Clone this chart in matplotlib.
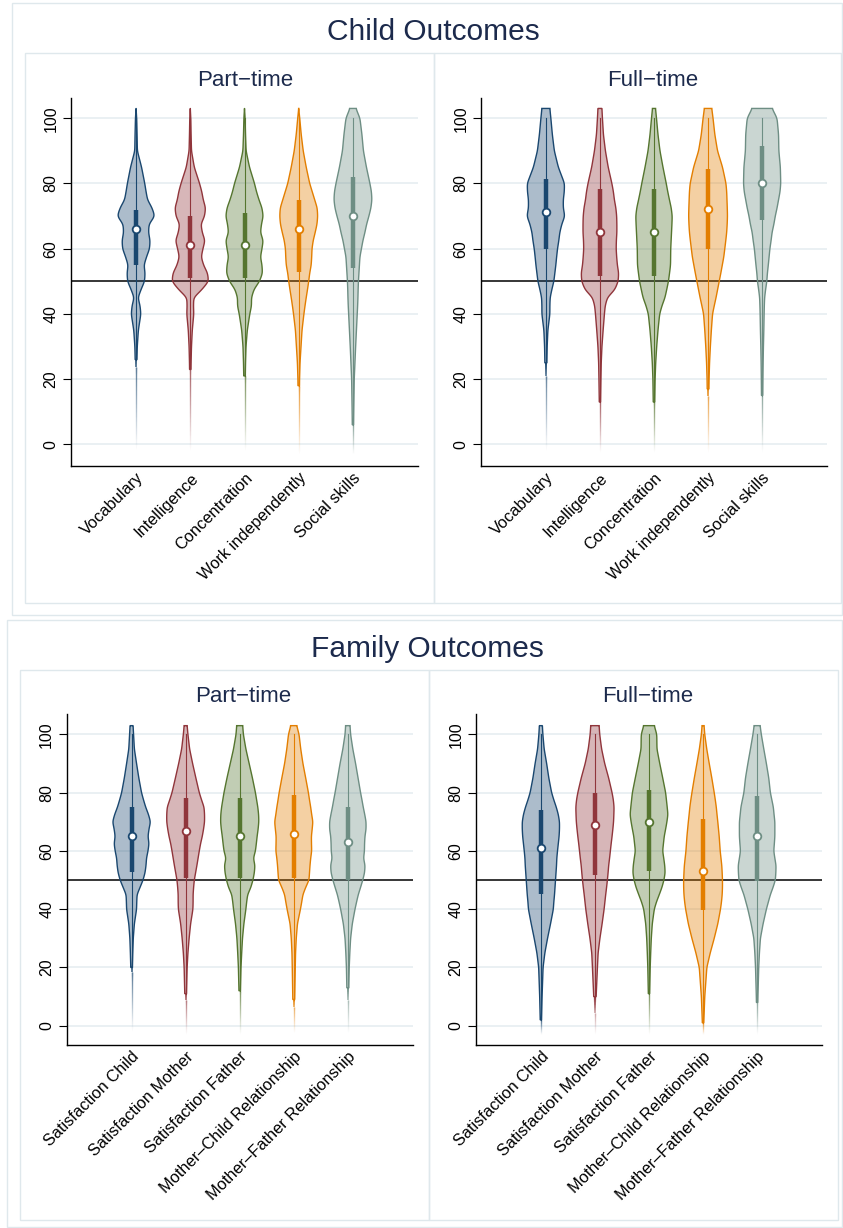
import numpy as np
import matplotlib
matplotlib.use('Agg')
import matplotlib.pyplot as plt
from matplotlib.patches import Rectangle
from matplotlib.collections import LineCollection

plt.rcParams['font.family'] = ['Liberation Sans', 'DejaVu Sans']

# ---- data ----

child_labels = ['Vocabulary', 'Intelligence', 'Concentration',
                'Work independently', 'Social skills']
family_labels = ['Satisfaction Child', 'Satisfaction Mother', 'Satisfaction Father',
                 'Mother\u2013Child Relationship', 'Mother\u2013Father Relationship']

# scores at which the violin half-widths (density, in pixels) were read
levels = [0, 10, 20, 25, 30, 35, 40, 42.5, 45, 47.5, 50, 52.5, 55, 57.5, 60,
          62.5, 65, 67.5, 70, 72.5, 75, 77.5, 80, 85, 90, 95, 100, 103]

# child outcomes, part-time
child_pt_dens = [
    [0.3, 0.4, 0.6, 0.8, 1.2, 2.3, 4.8, 4.0, 2.0, 5.0, 8.5, 9.0, 8.0, 10.5, 13.5,
     14.0, 12.5, 13.0, 18.7, 16.0, 11.5, 10.0, 8.7, 5.5, 1.3, 1.0, 0.6, 0.0],
    [0.3, 0.4, 0.6, 0.8, 1.2, 2.0, 3.5, 3.2, 3.5, 11.7, 18.3, 17.3, 13.3, 11.0, 12.7,
     14.7, 12.0, 10.7, 14.3, 15.3, 13.0, 11.5, 9.3, 4.0, 1.2, 0.8, 0.5, 0.0],
    [0.3, 0.4, 0.7, 1.0, 1.5, 2.8, 5.3, 7.0, 7.0, 9.5, 15.0, 18.0, 17.5, 16.0, 17.5,
     18.7, 16.0, 17.0, 18.7, 17.5, 14.5, 12.0, 10.0, 5.0, 1.6, 1.0, 0.6, 0.0],
    [0.3, 0.5, 0.8, 1.3, 2.3, 3.3, 5.2, 6.3, 7.5, 8.8, 10.0, 11.0, 12.5, 13.0, 13.3,
     14.5, 16.5, 18.3, 19.0, 18.5, 16.0, 13.5, 11.0, 7.5, 4.5, 2.5, 1.0, 0.0],
    [0.4, 0.8, 1.3, 2.0, 2.7, 3.5, 4.3, 4.7, 5.0, 5.2, 5.5, 6.0, 6.5, 7.0, 8.5,
     10.0, 12.0, 13.7, 16.0, 18.0, 19.0, 18.5, 17.0, 13.5, 10.5, 9.0, 7.0, 3.0],
]
child_pt_q1 = [55, 51, 51, 53, 54]
child_pt_med = [66, 61, 61, 66, 70]
child_pt_q3 = [72, 70, 71, 75, 82]
child_pt_solid = [26, 23, 21, 18, 6]      # below this the tail fades out
child_pt_tail = [-1.7, -2, -2, -3, -3]

# child outcomes, full-time
child_ft_dens = [
    [0.3, 0.5, 0.7, 1.0, 1.3, 2.0, 4.0, 4.0, 4.3, 6.0, 8.0, 9.0, 10.0, 10.8, 11.7,
     13.0, 14.0, 16.0, 19.0, 17.5, 17.5, 18.5, 18.7, 12.5, 8.5, 6.5, 5.0, 4.0],
    [0.3, 0.5, 1.0, 1.3, 2.0, 3.2, 4.5, 5.3, 7.5, 15.0, 18.3, 18.8, 17.5, 16.8, 16.3,
     16.5, 17.0, 17.0, 16.8, 16.0, 14.5, 13.5, 12.0, 8.3, 5.5, 3.5, 2.5, 2.0],
    [0.3, 0.6, 1.1, 1.7, 2.7, 4.0, 5.7, 8.0, 11.0, 12.8, 14.5, 15.6, 16.6, 16.7, 16.8,
     17.2, 17.6, 18.0, 18.3, 17.3, 15.5, 13.8, 12.3, 9.0, 6.0, 4.0, 2.5, 1.5],
    [0.3, 0.5, 1.0, 1.5, 2.3, 3.3, 4.5, 6.2, 8.0, 9.6, 11.2, 12.8, 14.3, 15.8, 16.8,
     17.8, 18.7, 19.2, 19.5, 19.3, 19.0, 18.7, 18.0, 14.5, 9.5, 6.8, 5.0, 3.7],
    [0.3, 0.5, 0.8, 1.0, 1.3, 1.7, 2.0, 2.2, 2.5, 3.5, 4.7, 5.3, 6.2, 7.0, 7.8,
     9.0, 10.0, 11.8, 13.2, 15.0, 16.5, 18.0, 18.7, 18.3, 16.8, 16.5, 15.0, 10.0],
]
child_ft_q1 = [60, 51.6, 51.6, 60, 68.9]
child_ft_med = [71.2, 65.1, 65.1, 72.1, 80.2]
child_ft_q3 = [81.3, 78.2, 78.2, 84.3, 91.5]
child_ft_solid = [25, 13, 13, 17, 15]
child_ft_tail = [-2, -2.5, -2.5, -2.5, -2.5]

# family outcomes, part-time
family_pt_dens = [
    [0.3, 0.5, 0.8, 1.2, 1.7, 2.8, 5.0, 5.2, 5.5, 8.5, 11.5, 13.5, 14.5, 15.0, 16.5,
     17.5, 16.5, 17.5, 19.0, 17.0, 14.2, 12.0, 10.0, 7.3, 5.0, 2.8, 2.0, 1.5],
    [0.3, 0.8, 1.5, 2.3, 3.5, 5.0, 7.3, 7.5, 7.5, 8.0, 8.7, 10.0, 11.3, 12.5, 13.7,
     15.0, 16.7, 18.0, 19.0, 19.0, 18.5, 16.0, 13.7, 10.3, 7.0, 4.0, 2.3, 1.5],
    [0.3, 0.6, 1.3, 2.0, 2.8, 4.2, 6.2, 7.0, 8.0, 11.2, 13.3, 14.7, 15.3, 13.8, 15.8,
     16.7, 17.5, 18.5, 19.2, 19.0, 18.2, 17.0, 15.8, 12.8, 9.5, 6.2, 3.7, 3.0],
    [0.3, 1.0, 1.5, 1.8, 2.5, 3.7, 6.7, 8.0, 9.2, 12.0, 15.3, 15.8, 16.3, 17.0, 18.0,
     17.8, 17.7, 18.5, 19.2, 18.0, 17.0, 15.8, 14.7, 12.0, 9.2, 7.0, 5.3, 3.0],
    [0.3, 0.8, 1.4, 2.0, 2.8, 4.5, 7.2, 8.8, 10.5, 12.8, 15.0, 16.8, 17.3, 15.8, 16.7,
     16.8, 17.2, 18.3, 18.3, 17.0, 15.5, 14.2, 12.8, 10.3, 7.8, 5.0, 2.8, 2.2],
]
family_pt_q1 = [52.8, 50.8, 50.8, 50.8, 50]
family_pt_med = [65, 67, 65, 65.7, 63.1]
family_pt_q3 = [75, 78.1, 78.1, 79.2, 75]
family_pt_solid = [20, 11, 12, 9, 13]
family_pt_tail = [-2, -3, -3, -2.5, -2.5]

# family outcomes, full-time
family_ft_dens = [
    [0.5, 1.2, 2.2, 4.0, 6.7, 9.7, 12.5, 13.0, 13.7, 14.2, 14.7, 15.2, 15.7, 16.0, 16.7,
     17.5, 18.3, 18.7, 18.7, 17.5, 15.5, 13.0, 10.8, 8.0, 5.8, 3.3, 2.0, 1.5],
    [0.4, 1.2, 2.5, 3.2, 5.0, 7.2, 9.2, 10.0, 10.8, 11.7, 12.5, 13.2, 13.8, 14.7, 15.5,
     16.3, 17.2, 18.0, 18.7, 19.0, 19.2, 18.5, 17.2, 13.8, 9.8, 6.7, 4.8, 4.2],
    [0.3, 0.6, 1.2, 1.7, 2.3, 3.3, 5.3, 7.5, 10.3, 13.0, 15.0, 16.2, 15.8, 14.8, 13.7,
     14.5, 15.3, 16.7, 18.0, 19.0, 18.3, 17.5, 16.7, 13.8, 10.8, 8.0, 7.8, 5.3],
    [0.6, 1.7, 3.8, 7.2, 11.2, 14.8, 17.5, 18.5, 19.2, 19.5, 19.5, 19.2, 18.8, 18.0, 17.2,
     16.7, 16.2, 15.5, 14.8, 14.0, 13.3, 12.3, 11.2, 8.8, 6.2, 3.7, 1.7, 1.0],
    [0.3, 0.8, 1.6, 2.3, 3.3, 6.0, 9.3, 11.3, 13.3, 16.0, 18.3, 18.8, 19.0, 17.8, 16.7,
     17.3, 17.8, 17.8, 17.8, 17.0, 16.3, 14.8, 13.3, 11.7, 9.3, 6.7, 4.2, 3.0],
]
family_ft_q1 = [45.1, 51.7, 53, 39.8, 49.8]
family_ft_med = [61, 69, 70, 53.1, 65]
family_ft_q3 = [73.9, 80, 80.9, 71, 78.8]
family_ft_solid = [2, 10, 11, 1, 8]
family_ft_tail = [-3, -3, -3, -3, -3]

# ---- styling ----
W, H = 843, 1228
colors = ['#1a476f', '#90353b', '#55752f', '#e37e00', '#6e8e84']
title_color = '#1c2a4c'
frame_color = '#dfe8ec'
px_per_slot = 54.3          # pixels between two violins


def smooth_profile(dens, y):
    # linear between read points, lightly smoothed so the outline is not angular
    w = np.interp(y, levels, dens)
    k = np.exp(-0.5 * (np.arange(-6, 7) * 0.25 / 0.7) ** 2)
    k = k / k.sum()
    wp = np.pad(w, 6, mode='edge')
    return np.convolve(wp, k, mode='valid')


def violin(ax, pos, dens, q1, med, q3, solid, tail, color):
    y = np.arange(solid, 103.0001, 0.25)
    w = smooth_profile(dens, y) / px_per_slot
    xs = np.concatenate([pos - w, (pos + w)[::-1]])
    ys = np.concatenate([y, y[::-1]])
    ax.fill(xs, ys, facecolor=color, alpha=0.36, lw=0, zorder=3)
    ax.fill(xs, ys, facecolor='none', edgecolor=color, lw=1.0, zorder=4)

    # fading tail below the solid part
    step = 0.25
    yt = np.arange(tail, solid, step)
    wt = smooth_profile(dens, yt)
    segs = [[(pos, a), (pos, min(a + step, solid))] for a in yt]
    alphas = ((yt - tail) / (solid - tail)) ** 1.2
    rgba = [matplotlib.colors.to_rgba(color, a) for a in alphas]
    lws = np.maximum(2 * wt, 1.3) * 0.72
    ax.add_collection(LineCollection(segs, colors=rgba, linewidths=lws,
                                     capstyle='butt', zorder=4))

    # whisker, box and median
    ax.plot([pos, pos], [solid, 100], color=color, lw=0.8, zorder=5)
    ax.plot([pos, pos], [q1, q3], color=color, lw=3.2, solid_capstyle='butt', zorder=6)
    ax.plot(pos, med, 'o', ms=5.5, mfc='white', mec=color, mew=1.3, zorder=7)


def panel(rect, ylim, labels, dens_list, q1, med, q3, solid, tail):
    l, t, r, b = rect
    ax = fig.add_axes([l / W, 1 - b / H, (r - l) / W, (b - t) / H])
    pos = np.arange(1, 6)
    for i in range(5):
        violin(ax, pos[i], dens_list[i], q1[i], med[i], q3[i], solid[i], tail[i], colors[i])

    ax.axhline(50, color='black', lw=1.1, zorder=2)
    ax.set_xlim(-0.2, 6.2)
    ax.set_ylim(*ylim)
    ax.set_yticks([0, 20, 40, 60, 80, 100])
    ax.set_yticklabels(['0', '20', '40', '60', '80', '100'], rotation=90, va='center')
    ax.grid(axis='y', color='#e6eef1', lw=1.2, zorder=0)
    ax.set_axisbelow(True)
    ax.set_xticks(pos)
    ax.set_xticklabels(labels, rotation=45, ha='right', va='top',
                       rotation_mode='anchor', fontsize=11.8)
    ax.tick_params(axis='x', length=0, pad=3)
    ax.tick_params(axis='y', length=6, width=0.8, pad=3, labelsize=11.5)
    for s in ['top', 'right']:
        ax.spines[s].set_visible(False)
    for s in ['left', 'bottom']:
        ax.spines[s].set_linewidth(1.0)
    ax.set_facecolor('none')
    return ax


def frame(l, t, r, b):
    fig.add_artist(Rectangle((l / W, 1 - b / H), (r - l) / W, (b - t) / H,
                             transform=fig.transFigure, fill=False,
                             edgecolor=frame_color, lw=1.0))


def label(x, y, s, size):
    fig.text(x / W, 1 - y / H, s, ha='center', va='center',
             fontsize=size, color=title_color)


fig = plt.figure(figsize=(W / 100, H / 100), dpi=100)

# boxes around the two groups and their sub-panels
frame(12, 3, 842, 615)
frame(25, 53, 434, 603)
frame(434, 53, 841, 603)
frame(7, 620, 842, 1227)
frame(20, 670, 429, 1220)
frame(429, 670, 838, 1220)

label(433, 32, 'Child Outcomes', 21.5)
label(245, 80, 'Part\u2212time', 16)
label(653, 80, 'Full\u2212time', 16)
label(427, 649, 'Family Outcomes', 21.5)
label(243, 697, 'Part\u2212time', 16)
label(648, 697, 'Full\u2212time', 16)

panel((71, 98, 418, 466), (-6.6, 106.2), child_labels, child_pt_dens,
      child_pt_q1, child_pt_med, child_pt_q3, child_pt_solid, child_pt_tail)
panel((481, 98, 827, 466), (-6.6, 106.2), child_labels, child_ft_dens,
      child_ft_q1, child_ft_med, child_ft_q3, child_ft_solid, child_ft_tail)
panel((66.7, 714, 412.7, 1045), (-6.6, 107), family_labels, family_pt_dens,
      family_pt_q1, family_pt_med, family_pt_q3, family_pt_solid, family_pt_tail)
panel((476, 714, 822, 1045), (-6.6, 107), family_labels, family_ft_dens,
      family_ft_q1, family_ft_med, family_ft_q3, family_ft_solid, family_ft_tail)

fig.savefig('out.png', dpi=100, facecolor='white')
